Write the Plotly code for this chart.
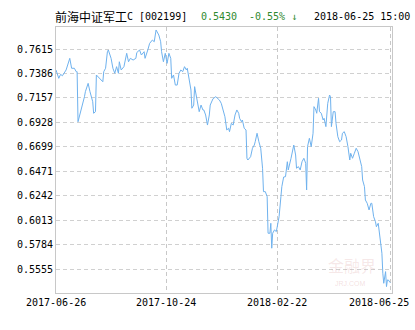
import plotly.graph_objects as go

dates = [
    "2017-06-26", "2017-06-29", "2017-07-01", "2017-07-03", "2017-07-07", "2017-07-11", "2017-07-13",
    "2017-07-16", "2017-07-18", "2017-07-19", "2017-07-20", "2017-07-23", "2017-07-27", "2017-07-28",
    "2017-07-31", "2017-08-02", "2017-08-05", "2017-08-06", "2017-08-08", "2017-08-09", "2017-08-11",
    "2017-08-14", "2017-08-16", "2017-08-17", "2017-08-19", "2017-08-21", "2017-08-22", "2017-08-25",
    "2017-08-27", "2017-08-29", "2017-08-31", "2017-09-02", "2017-09-03", "2017-09-05", "2017-09-08",
    "2017-09-11", "2017-09-13", "2017-09-15", "2017-09-18", "2017-09-21", "2017-09-22", "2017-09-25",
    "2017-09-27", "2017-09-30", "2017-10-01", "2017-10-04", "2017-10-06", "2017-10-09", "2017-10-11",
    "2017-10-13", "2017-10-16", "2017-10-18", "2017-10-19", "2017-10-21", "2017-10-23", "2017-10-25",
    "2017-10-27", "2017-10-29", "2017-10-30", "2017-11-01", "2017-11-03", "2017-11-05", "2017-11-07",
    "2017-11-09", "2017-11-11", "2017-11-13", "2017-11-15", "2017-11-16", "2017-11-18", "2017-11-20",
    "2017-11-21", "2017-11-23", "2017-11-24", "2017-11-26", "2017-11-27", "2017-11-29", "2017-12-01",
    "2017-12-03", "2017-12-04", "2017-12-06", "2017-12-08", "2017-12-10", "2017-12-11", "2017-12-13",
    "2017-12-14", "2017-12-17", "2017-12-21", "2017-12-23", "2017-12-25", "2017-12-27", "2017-12-29",
    "2017-12-31", "2018-01-01", "2018-01-03", "2018-01-05", "2018-01-07", "2018-01-09", "2018-01-11",
    "2018-01-12", "2018-01-14", "2018-01-15", "2018-01-17", "2018-01-19", "2018-01-20", "2018-01-21",
    "2018-01-24", "2018-01-26", "2018-01-28", "2018-01-29", "2018-01-31", "2018-02-02", "2018-02-04",
    "2018-02-06", "2018-02-07", "2018-02-09", "2018-02-11", "2018-02-12", "2018-02-14", "2018-02-15",
    "2018-02-16", "2018-02-17", "2018-02-19", "2018-02-21", "2018-02-23", "2018-02-24", "2018-02-26",
    "2018-02-27", "2018-03-01", "2018-03-03", "2018-03-05", "2018-03-06", "2018-03-09", "2018-03-12",
    "2018-03-14", "2018-03-15", "2018-03-17", "2018-03-19", "2018-03-21", "2018-03-23", "2018-03-25",
    "2018-03-26", "2018-03-27", "2018-03-29", "2018-03-31", "2018-04-02", "2018-04-03", "2018-04-05",
    "2018-04-06", "2018-04-08", "2018-04-09", "2018-04-11", "2018-04-13", "2018-04-14", "2018-04-16",
    "2018-04-18", "2018-04-20", "2018-04-21", "2018-04-22", "2018-04-24", "2018-04-26", "2018-04-27",
    "2018-04-29", "2018-05-01", "2018-05-03", "2018-05-04", "2018-05-06", "2018-05-08", "2018-05-10",
    "2018-05-12", "2018-05-13", "2018-05-15", "2018-05-17", "2018-05-19", "2018-05-21", "2018-05-23",
    "2018-05-25", "2018-05-26", "2018-05-28", "2018-05-29", "2018-05-31", "2018-06-02", "2018-06-04",
    "2018-06-05", "2018-06-07", "2018-06-09", "2018-06-10", "2018-06-12", "2018-06-14", "2018-06-16",
    "2018-06-17", "2018-06-18", "2018-06-20", "2018-06-21", "2018-06-22", "2018-06-23", "2018-06-25",
]

nav = [
    0.7419, 0.7341, 0.7378, 0.7365, 0.7419, 0.7528, 0.7435,
    0.7435, 0.7403, 0.7403, 0.6935, 0.7029, 0.7169, 0.7216,
    0.7294, 0.7216, 0.7122, 0.7014, 0.7029, 0.7372, 0.7356,
    0.7325, 0.7309, 0.7403, 0.7435, 0.7590, 0.7606, 0.7528,
    0.7435, 0.7388, 0.7450, 0.7388, 0.7496, 0.7419, 0.7450,
    0.7575, 0.7496, 0.7528, 0.7512, 0.7528, 0.7582, 0.7606,
    0.7559, 0.7590, 0.7528, 0.7606, 0.7668, 0.7699, 0.7683,
    0.7793, 0.7746, 0.7683, 0.7590, 0.7496, 0.7575, 0.7481,
    0.7575, 0.7528, 0.7341, 0.7372, 0.7278, 0.7278, 0.7388,
    0.7419, 0.7403, 0.7450, 0.7419, 0.7435, 0.7325, 0.7232,
    0.7061, 0.7091, 0.7263, 0.7169, 0.7091, 0.7029, 0.7091,
    0.7045, 0.7045, 0.6998, 0.6904, 0.6998, 0.7091, 0.7138,
    0.7150, 0.7169, 0.7138, 0.7107, 0.7045, 0.6982, 0.6858,
    0.6874, 0.6842, 0.6920, 0.6904, 0.6998, 0.7045, 0.7014,
    0.6967, 0.6935, 0.6951, 0.6874, 0.6858, 0.6593, 0.6577,
    0.6608, 0.6687, 0.6717, 0.6748, 0.6827, 0.6748, 0.6687,
    0.6500, 0.6281, 0.6281, 0.6234, 0.5892, 0.5892, 0.5985,
    0.5752, 0.5892, 0.5923, 0.5907, 0.6016, 0.6047, 0.6234,
    0.6328, 0.6418, 0.6421, 0.6561, 0.6484, 0.6593, 0.6717,
    0.6624, 0.6500, 0.6515, 0.6484, 0.6561, 0.6593, 0.6546,
    0.6297, 0.6702, 0.6780, 0.6702, 0.6827, 0.7076, 0.7045,
    0.7014, 0.7154, 0.7029, 0.7014, 0.6951, 0.6967, 0.6889,
    0.7107, 0.7185, 0.7169, 0.6889, 0.7029, 0.7029, 0.6920,
    0.6795, 0.6748, 0.6764, 0.6827, 0.6842, 0.6795, 0.6702,
    0.6577, 0.6640, 0.6593, 0.6640, 0.6687, 0.6655, 0.6593,
    0.6515, 0.6390, 0.6328, 0.6203, 0.6172, 0.6110, 0.6172,
    0.6172, 0.6047, 0.6000, 0.5953, 0.5985, 0.5860, 0.5705,
    0.5518, 0.5424, 0.5533, 0.5393, 0.5455, 0.5455, 0.5430,
]

y_ticks = [0.5555, 0.5784, 0.6013, 0.6242, 0.6471, 0.6699, 0.6928, 0.7157, 0.7386, 0.7615]
x_ticks = ["2017-06-26", "2017-10-24", "2018-02-22", "2018-06-25"]

fund_name = "前海中证军工"
fund_code = "C [002199]"
last_nav = "0.5430"
change = "-0.55% ↓"
stamp = "2018-06-25 15:00"

MONO = "DejaVu Sans Mono"
CJK = "Noto Sans CJK SC"
GREEN = "#2f8a2f"

fig = go.Figure()
fig.add_trace(go.Scatter(
    x=dates, y=nav, mode="lines",
    line=dict(color="#6fb2ee", width=1),
    hoverinfo="skip",
))

fig.update_layout(
    width=415, height=330,
    margin=dict(l=56, r=23, t=27, b=37),
    plot_bgcolor="white", paper_bgcolor="white",
    showlegend=False,
    xaxis=dict(
        type="date", range=["2017-06-26", "2018-06-27"],
        tickvals=x_ticks, showticklabels=False, ticks="",
        showgrid=True, gridcolor="#c8c8c8", griddash="4px,3px", gridwidth=1,
        showline=True, linecolor="#c8c8c8", linewidth=1, mirror=True,
        zeroline=False,
    ),
    yaxis=dict(
        range=[0.5333, 0.7821],
        tickvals=y_ticks, ticktext=[f"{v:.4f}" for v in y_ticks], ticks="",
        tickfont=dict(family=MONO, size=10, color="#000"),
        showgrid=True, gridcolor="#d0d0d0", griddash="4px,3px", gridwidth=1,
        showline=True, linecolor="#c8c8c8", linewidth=1, mirror=True,
        zeroline=False,
    ),
)

anns = []
# x tick labels
for i, d in enumerate(x_ticks):
    if i < len(x_ticks) - 1:
        anns.append(dict(x=d, xref="x", y=0, yref="paper", yanchor="middle", yshift=-9,
                         xanchor="center", text=d, showarrow=False,
                         font=dict(family=MONO, size=10, color="#000")))
    else:
        anns.append(dict(x=(411 - 56) / 336.0, xref="paper", y=0, yref="paper", yanchor="middle",
                         yshift=-9, xanchor="right", text=d, showarrow=False,
                         font=dict(family=MONO, size=10, color="#000")))

def px(p):
    return (p - 56) / 336.0

title_parts = [
    (55, fund_name, CJK, 12, "#000"),
    (127, fund_code, MONO, 10, "#000"),
    (201, last_nav, MONO, 10, GREEN),
    (249, change, MONO, 10, GREEN),
    (314, stamp, MONO, 10, "#000"),
]
for xp, t, fam, sz, col in title_parts:
    anns.append(dict(x=px(xp), xref="paper", y=1, yref="paper", yanchor="middle", yshift=11,
                     xanchor="left", text=t, showarrow=False, xshift=-2,
                     font=dict(family=fam, size=sz, color=col)))

# faint watermark
anns.append(dict(x=px(352), xref="paper", y=0, yref="paper", yanchor="bottom", yshift=14,
                 xanchor="center", text="金融界", showarrow=False,
                 font=dict(family=CJK, size=16, color="rgba(215,150,150,0.22)")))
anns.append(dict(x=px(350), xref="paper", y=0, yref="paper", yanchor="bottom", yshift=4,
                 xanchor="center", text="JRJ.COM", showarrow=False,
                 font=dict(family="Liberation Sans", size=7, color="rgba(215,150,150,0.3)")))

fig.update_layout(annotations=anns)
fig.write_html("out.html")
